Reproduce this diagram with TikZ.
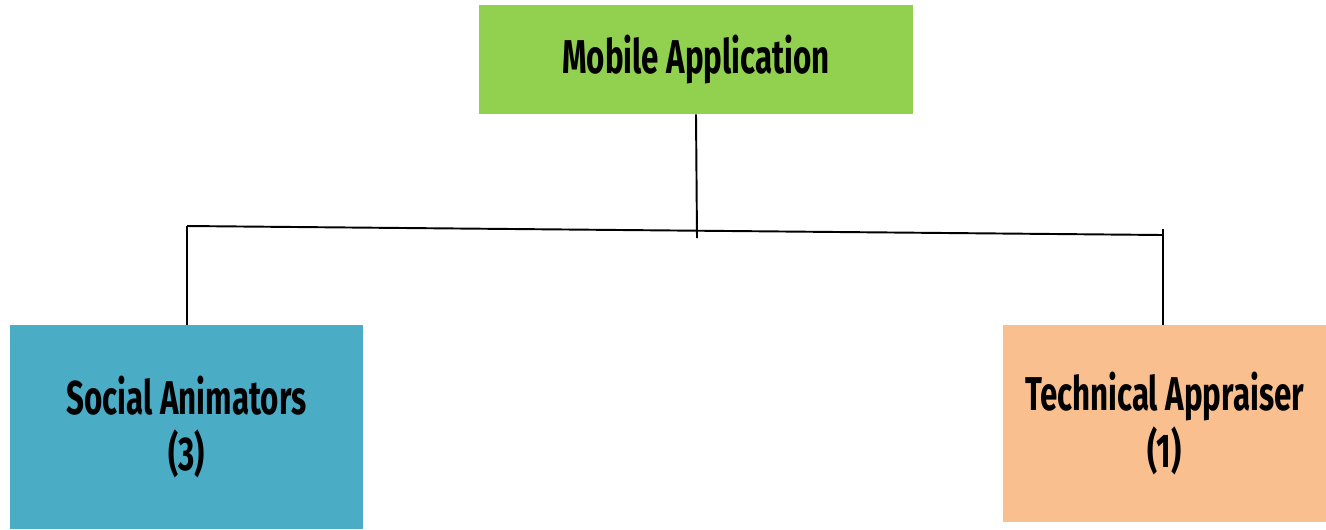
\documentclass[tikz,border=0pt]{standalone}
\usepackage{fontspec}
\setmainfont[FakeStretch=0.66]{Fira Sans}
\usepackage{xcolor}
\usetikzlibrary{positioning, calc}
\definecolor{appgreen}{HTML}{92D050}
\definecolor{socblue}{HTML}{4BACC6}
\definecolor{techorange}{HTML}{F9BF8F}

\begin{document}
\begin{tikzpicture}[x=0.02cm, y=-0.02cm,
    unit/.style={inner sep=0pt, align=center, font=\bfseries\fontsize{27}{32}\selectfont},
    link/.style={line width=1.1pt}]
\useasboundingbox (0,0) rectangle (1326,529);
% Top level: the application
\node[unit, fill=appgreen, minimum width=8.68cm, minimum height=2.18cm] (app) at (696,59.5) {Mobile Application};

% Second level: the two groups of users
\node[unit, fill=socblue, minimum width=7.06cm, minimum height=4.08cm] (soc) at (186.5,427) {Social Animators\\(3)};
\node[unit, fill=techorange, minimum width=6.46cm, minimum height=3.94cm] (tech) at (1164.5,423.5) {Technical Appraiser\\(1)};

% Branch lines
\coordinate (jl) at (187,226);
\coordinate (jr) at (1163,235);
\coordinate (jm) at (697,238);
\coordinate (rt) at (1163,229);
\draw[link] (app.south) -- (jm);
\draw[link] (jl) -- (jr);
\draw[link] (jl) -- (jl |- soc.north);
\draw[link] (rt) -- (rt |- tech.north);
\end{tikzpicture}
\end{document}
